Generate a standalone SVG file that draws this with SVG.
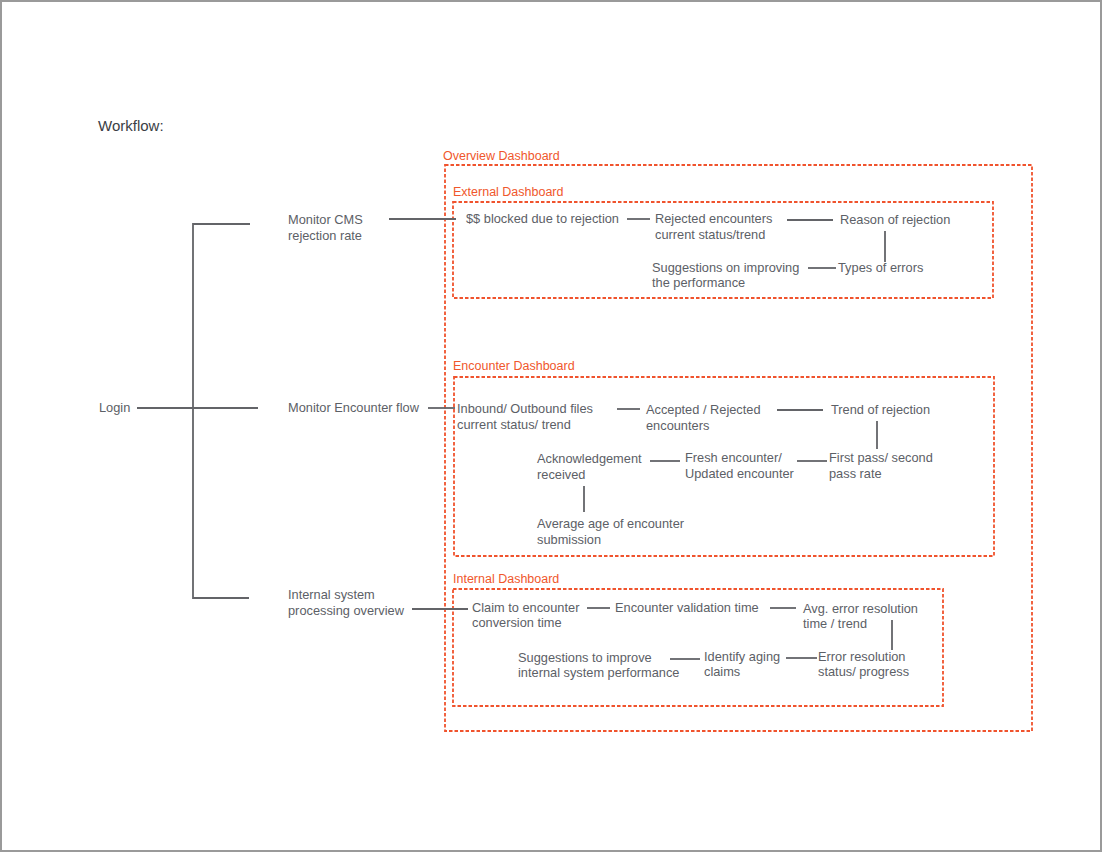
<svg xmlns="http://www.w3.org/2000/svg" width="1102" height="852" viewBox="0 0 1102 852">
<style>
.t{font-family:"Liberation Sans",Arial,sans-serif;font-size:12.8px;fill:#5c6066}
.h{font-family:"Liberation Sans",Arial,sans-serif;font-size:15px;fill:#3a3e45}
.l{font-family:"Liberation Sans",Arial,sans-serif;font-size:12.5px;fill:#f0572c}
.box{fill:none;stroke:#f0532d;stroke-width:1.8;stroke-dasharray:3.5 2}
.c{fill:none;stroke:#636468;stroke-width:1.8;stroke-linecap:butt}
</style>
<rect x="1" y="1" width="1100" height="850" fill="#ffffff" stroke="#9a9a9a" stroke-width="2"/>
<text class="h" x="98" y="131">Workflow:</text>

<g id="overview-dashboard">
<rect class="box" x="445" y="165" width="587" height="566"/>
<text class="l" x="443" y="160">Overview Dashboard</text>
</g>
<g id="external-dashboard">
<rect class="box" x="453" y="202" width="540" height="96"/>
<text class="l" x="453" y="196">External Dashboard</text>
</g>
<g id="encounter-dashboard">
<rect class="box" x="454" y="377" width="540" height="179"/>
<text class="l" x="453" y="370">Encounter Dashboard</text>
</g>
<g id="internal-dashboard">
<rect class="box" x="453" y="589" width="490" height="117"/>
<text class="l" x="453" y="583">Internal Dashboard</text>
</g>

<g id="connectors">
<polyline class="c" points="250,224 193,224 193,598 249,598"/>
<line class="c" x1="137" y1="408" x2="258" y2="408"/>
<line class="c" x1="389" y1="219" x2="456" y2="219"/>
<line class="c" x1="627" y1="219" x2="650" y2="219"/>
<line class="c" x1="787" y1="220" x2="833" y2="220"/>
<line class="c" x1="885" y1="231" x2="885" y2="262"/>
<line class="c" x1="808" y1="268" x2="836" y2="268"/>
<line class="c" x1="428" y1="408" x2="455" y2="408"/>
<line class="c" x1="617" y1="409" x2="640" y2="409"/>
<line class="c" x1="777" y1="410" x2="823" y2="410"/>
<line class="c" x1="877" y1="421" x2="877" y2="449"/>
<line class="c" x1="650" y1="461" x2="680" y2="461"/>
<line class="c" x1="797" y1="461" x2="827" y2="461"/>
<line class="c" x1="584" y1="486" x2="584" y2="512"/>
<line class="c" x1="412" y1="609" x2="468" y2="609"/>
<line class="c" x1="587" y1="608" x2="610" y2="608"/>
<line class="c" x1="770" y1="608" x2="796" y2="608"/>
<line class="c" x1="892" y1="620" x2="892" y2="650"/>
<line class="c" x1="786" y1="658" x2="817" y2="658"/>
<line class="c" x1="670" y1="659" x2="700" y2="659"/>
</g>

<g id="login"><text class="t" x="99" y="412">Login</text></g>
<g id="monitor-cms"><text class="t" x="288" y="224">Monitor CMS</text><text class="t" x="288" y="240">rejection rate</text></g>
<g id="monitor-encounter"><text class="t" x="288" y="412">Monitor Encounter flow</text></g>
<g id="internal-system"><text class="t" x="288" y="599">Internal system</text><text class="t" x="288" y="615">processing overview</text></g>

<g id="blocked"><text class="t" x="466" y="223">$$ blocked due to rejection</text></g>
<g id="rejected-encounters"><text class="t" x="655" y="223">Rejected encounters</text><text class="t" x="655" y="239">current status/trend</text></g>
<g id="reason"><text class="t" x="840" y="224">Reason of rejection</text></g>
<g id="types"><text class="t" x="838" y="272">Types of errors</text></g>
<g id="suggestions-ext"><text class="t" x="652" y="272">Suggestions on improving</text><text class="t" x="652" y="287">the performance</text></g>

<g id="inbound"><text class="t" x="457" y="413">Inbound/ Outbound files</text><text class="t" x="457" y="429">current status/ trend</text></g>
<g id="accepted"><text class="t" x="646" y="414">Accepted / Rejected</text><text class="t" x="646" y="430">encounters</text></g>
<g id="trend"><text class="t" x="831" y="414">Trend of rejection</text></g>
<g id="first-pass"><text class="t" x="829" y="462">First pass/ second</text><text class="t" x="829" y="478">pass rate</text></g>
<g id="fresh"><text class="t" x="685" y="462">Fresh encounter/</text><text class="t" x="685" y="478">Updated encounter</text></g>
<g id="ack"><text class="t" x="537" y="463">Acknowledgement</text><text class="t" x="537" y="479">received</text></g>
<g id="average-age"><text class="t" x="537" y="528">Average age of encounter</text><text class="t" x="537" y="544">submission</text></g>

<g id="claim"><text class="t" x="472" y="612">Claim to encounter</text><text class="t" x="472" y="627">conversion time</text></g>
<g id="validation"><text class="t" x="615" y="612">Encounter validation time</text></g>
<g id="avg-error"><text class="t" x="803" y="613">Avg. error resolution</text><text class="t" x="803" y="628">time / trend</text></g>
<g id="error-status"><text class="t" x="818" y="661">Error resolution</text><text class="t" x="818" y="676">status/ progress</text></g>
<g id="aging"><text class="t" x="704" y="661">Identify aging</text><text class="t" x="704" y="676">claims</text></g>
<g id="suggestions-int"><text class="t" x="518" y="662">Suggestions to improve</text><text class="t" x="518" y="677">internal system performance</text></g>
</svg>
